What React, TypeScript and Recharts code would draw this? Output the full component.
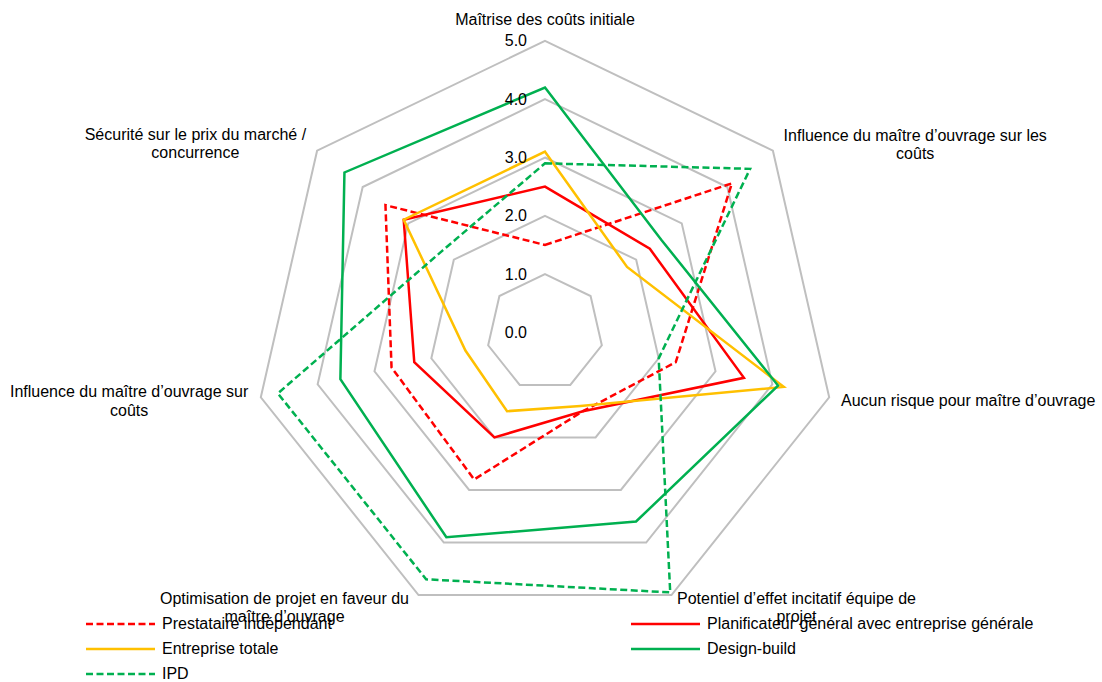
import React from 'react';
import { RadarChart, Radar, PolarGrid, PolarAngleAxis, PolarRadiusAxis, Legend } from 'recharts';

const categories = [
  'Maîtrise des coûts initiale',
  'Influence du maître d’ouvrage sur les coûts',
  'Aucun risque pour maître d’ouvrage',
  'Potentiel d’effet incitatif équipe de projet',
  'Optimisation de projet en faveur du maître d’ouvrage',
  'Influence du maître d’ouvrage sur coûts',
  'Sécurité sur le prix du marché / concurrence',
];

const categoryLines: string[][] = [
  ['Maîtrise des coûts initiale'],
  ['Influence du maître d’ouvrage sur les', 'coûts'],
  ['Aucun risque pour maître d’ouvrage'],
  ['Potentiel d’effet incitatif équipe de', 'projet'],
  ['Optimisation de projet en faveur du', 'maître d’ouvrage'],
  ['Influence du maître d’ouvrage sur', 'coûts'],
  ['Sécurité sur le prix du marché /', 'concurrence'],
];

const prestataire = [1.5, 4.1, 2.3, 1.5, 2.8, 2.7, 3.5];
const planificateur = [2.5, 2.3, 3.5, 1.5, 2.0, 2.3, 3.1];
const entrepriseTotale = [3.1, 1.8, 4.2, 1.4, 1.5, 1.4, 3.1];
const designBuild = [4.2, 2.55, 4.1, 3.6, 3.9, 3.6, 4.4];
const ipd = [2.9, 4.5, 2.0, 4.95, 4.7, 4.7, 2.25];

const radiusTicks = [0, 1, 2, 3, 4, 5];

const seriesNames = [
  'Prestataire indépendant',
  'Planificateur général avec entreprise générale',
  'Entreprise totale',
  'Design-build',
  'IPD',
];

const FONT = '"Liberation Sans", Arial, sans-serif';
const FONT_SIZE = 16;
const CX = 545;
const CY = 332.4;
const R = 291.5;
const DASH = '7 3.5';

const series = [
  { key: 'prestataire', name: seriesNames[0], values: prestataire, color: '#FF0000', dash: DASH },
  { key: 'planificateur', name: seriesNames[1], values: planificateur, color: '#FF0000', dash: undefined },
  { key: 'entrepriseTotale', name: seriesNames[2], values: entrepriseTotale, color: '#FFC000', dash: undefined },
  { key: 'designBuild', name: seriesNames[3], values: designBuild, color: '#00B050', dash: undefined },
  { key: 'ipd', name: seriesNames[4], values: ipd, color: '#00B050', dash: DASH },
];

const data = categories.map((c, i) => {
  const row: Record<string, any> = { category: c };
  series.forEach((s) => {
    row[s.key] = s.values[i];
  });
  return row;
});

let ctx: CanvasRenderingContext2D | null = null;
const measure = (s: string) => {
  if (!ctx) {
    ctx = document.createElement('canvas').getContext('2d');
  }
  if (!ctx) return s.length * 8;
  ctx.font = `${FONT_SIZE}px ${FONT}`;
  return ctx.measureText(s).width;
};

// label block placement relative to the outer vertex of each axis
const labelLayout = [
  { anchor: 'middle', dx: 0, dy: -21.5 },
  { anchor: 'start', dx: 10.7, dy: -15.6 },
  { anchor: 'start', dx: 11.8, dy: 3.7 },
  { anchor: 'start', dx: 5.5, dy: 3 },
  { anchor: 'end', dx: -9.5, dy: 3 },
  { anchor: 'end', dx: -12.5, dy: -5.8 },
  { anchor: 'end', dx: -11, dy: -16.6 },
];
const LINE_H = 18.8;

const AngleTick = (props: any) => {
  const { payload, index } = props;
  const i = typeof index === 'number' ? index : categories.indexOf(payload.value);
  const lines = categoryLines[i] || [String(payload.value)];
  const ang = ((payload.coordinate ?? 90) * Math.PI) / 180;
  const vx = CX + R * Math.cos(ang);
  const vy = CY - R * Math.sin(ang);
  const lay = labelLayout[i] || { anchor: 'middle', dx: 0, dy: 0 };
  const blockW = Math.max(...lines.map(measure));
  let centerX = vx + lay.dx;
  if (lay.anchor === 'start') centerX = vx + lay.dx + blockW / 2;
  if (lay.anchor === 'end') centerX = vx + lay.dx - blockW / 2;
  const y0 = vy + lay.dy;
  return (
    <g>
      {lines.map((ln, k) => (
        <text
          key={k}
          x={centerX}
          y={y0 + k * LINE_H}
          textAnchor="middle"
          dominantBaseline="central"
          fontFamily={FONT}
          fontSize={FONT_SIZE}
          fill="#000"
        >
          {ln}
        </text>
      ))}
    </g>
  );
};

const RadiusTick = (props: any) => {
  const { x, y, payload } = props;
  return (
    <text
      x={x - 18}
      y={y}
      textAnchor="end"
      dominantBaseline="central"
      fontFamily={FONT}
      fontSize={FONT_SIZE}
      fill="#000"
    >
      {Number(payload.value).toFixed(1)}
    </text>
  );
};

const LegendContent = () => (
  <div style={{ position: 'relative', width: 1102, height: 75, fontFamily: FONT, fontSize: FONT_SIZE, color: '#000' }}>
    {series.map((s, i) => {
      const col = i % 2;
      const row = Math.floor(i / 2);
      return (
        <div
          key={s.key}
          style={{
            position: 'absolute',
            left: col === 0 ? 86 : 631,
            top: row * 24.85,
            height: 24,
            display: 'flex',
            alignItems: 'center',
            whiteSpace: 'nowrap',
          }}
        >
          <svg width={69} height={10} style={{ display: 'block', marginRight: 7 }}>
            <line x1={0} y1={5} x2={69} y2={5} stroke={s.color} strokeWidth={2.5} strokeDasharray={s.dash} />
          </svg>
          <span style={{ lineHeight: '24px' }}>{s.name}</span>
        </div>
      );
    })}
  </div>
);

export default function App() {
  return (
    <div style={{ position: 'absolute', left: 0, top: 0, width: 1102, height: 682, background: '#fff' }}>
      <RadarChart
        width={1102}
        height={682}
        data={data}
        cx={CX}
        cy={CY}
        outerRadius={R}
        margin={{ top: 0, right: 0, bottom: 0, left: 0 }}
        startAngle={90}
        endAngle={-270}
      >
        <PolarGrid gridType="polygon" radialLines={false} stroke="#BFBFBF" strokeWidth={2} />
        <PolarAngleAxis dataKey="category" tick={<AngleTick />} tickLine={false} axisLine={false} />
        <PolarRadiusAxis
          angle={90}
          type="number"
          domain={[0, 5]}
          ticks={radiusTicks}
          tickCount={6}
          axisLine={false}
          tickLine={false}
          tick={<RadiusTick />}
        />
        {series.map((s) => (
          <Radar
            key={s.key}
            name={s.name}
            dataKey={s.key}
            stroke={s.color}
            strokeWidth={2.5}
            strokeDasharray={s.dash}
            fill="none"
            fillOpacity={0}
            dot={false}
            isAnimationActive={false}
          />
        ))}
        <Legend
          content={<LegendContent />}
          wrapperStyle={{ position: 'absolute', left: 0, top: 612, width: 1102, height: 75 }}
        />
      </RadarChart>
    </div>
  );
}
